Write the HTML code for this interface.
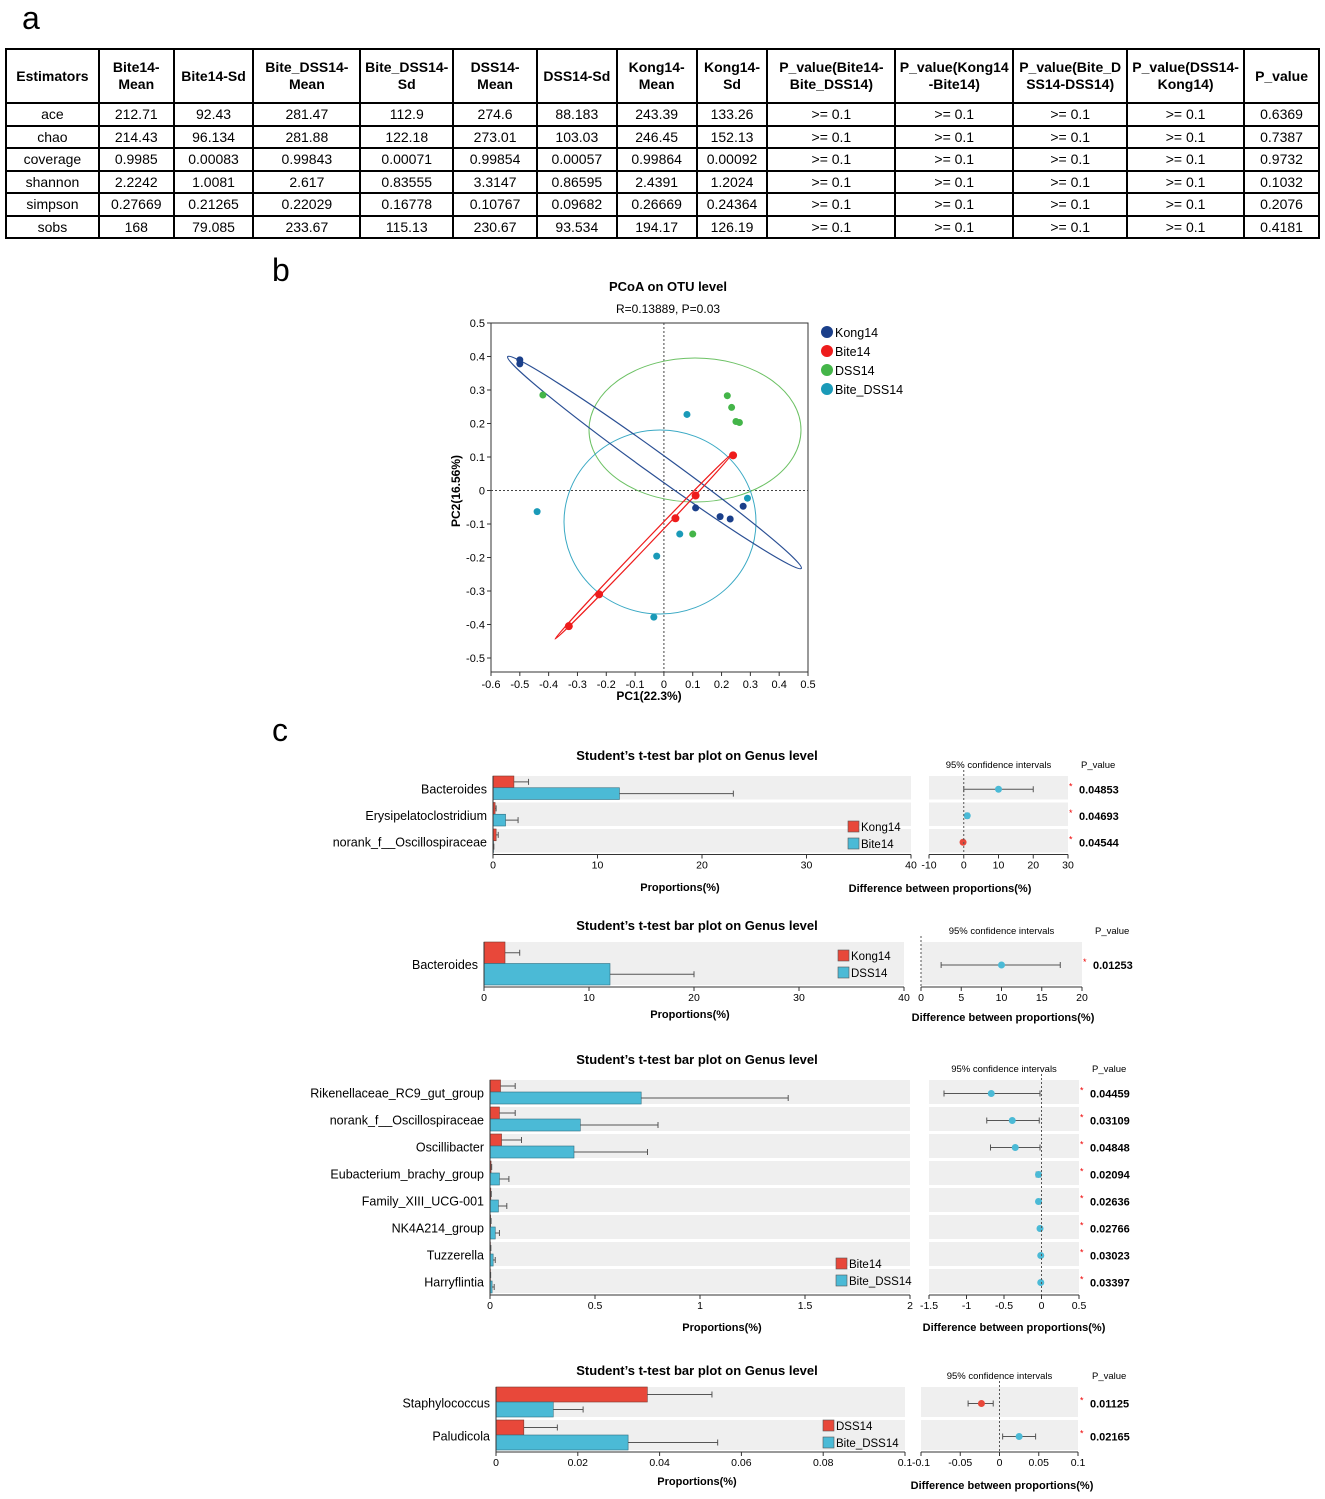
<!DOCTYPE html>
<html><head><meta charset="utf-8">
<style>
html,body{margin:0;padding:0;background:#fff;}
body{width:1325px;height:1499px;position:relative;overflow:hidden;font-family:"Liberation Sans",Arial,sans-serif;}
.lbl{position:absolute;font-size:32px;color:#000;}
table{position:absolute;left:5px;top:48px;border-collapse:collapse;width:1315px;}
td,th{border:2px solid #000;text-align:center;font-size:14px;padding:0;height:20.5px;}
th{font-weight:bold;height:52px;line-height:17px;}
svg{position:absolute;left:0;top:0;}
</style></head>
<body>
<div class="lbl" style="left:22px;top:0px">a</div>
<div class="lbl" style="left:272px;top:252px">b</div>
<div class="lbl" style="left:272px;top:712px">c</div>
<table>
<colgroup><col style="width:93px"><col style="width:75px"><col style="width:80px"><col style="width:107px"><col style="width:93px"><col style="width:84px"><col style="width:80px"><col style="width:80px"><col style="width:71px"><col style="width:128px"><col style="width:118px"><col style="width:114px"><col style="width:117px"><col style="width:75px"></colgroup>
<tr><th>Estimators</th><th>Bite14-<br>Mean</th><th>Bite14-Sd</th><th>Bite_DSS14-<br>Mean</th><th>Bite_DSS14-<br>Sd</th><th>DSS14-<br>Mean</th><th>DSS14-Sd</th><th>Kong14-<br>Mean</th><th>Kong14-<br>Sd</th><th>P_value(Bite14-<br>Bite_DSS14)</th><th>P_value(Kong14<br>-Bite14)</th><th>P_value(Bite_D<br>SS14-DSS14)</th><th>P_value(DSS14-<br>Kong14)</th><th>P_value</th></tr>
<tr><td>ace</td><td>212.71</td><td>92.43</td><td>281.47</td><td>112.9</td><td>274.6</td><td>88.183</td><td>243.39</td><td>133.26</td><td>&gt;= 0.1</td><td>&gt;= 0.1</td><td>&gt;= 0.1</td><td>&gt;= 0.1</td><td>0.6369</td></tr>
<tr><td>chao</td><td>214.43</td><td>96.134</td><td>281.88</td><td>122.18</td><td>273.01</td><td>103.03</td><td>246.45</td><td>152.13</td><td>&gt;= 0.1</td><td>&gt;= 0.1</td><td>&gt;= 0.1</td><td>&gt;= 0.1</td><td>0.7387</td></tr>
<tr><td>coverage</td><td>0.9985</td><td>0.00083</td><td>0.99843</td><td>0.00071</td><td>0.99854</td><td>0.00057</td><td>0.99864</td><td>0.00092</td><td>&gt;= 0.1</td><td>&gt;= 0.1</td><td>&gt;= 0.1</td><td>&gt;= 0.1</td><td>0.9732</td></tr>
<tr><td>shannon</td><td>2.2242</td><td>1.0081</td><td>2.617</td><td>0.83555</td><td>3.3147</td><td>0.86595</td><td>2.4391</td><td>1.2024</td><td>&gt;= 0.1</td><td>&gt;= 0.1</td><td>&gt;= 0.1</td><td>&gt;= 0.1</td><td>0.1032</td></tr>
<tr><td>simpson</td><td>0.27669</td><td>0.21265</td><td>0.22029</td><td>0.16778</td><td>0.10767</td><td>0.09682</td><td>0.26669</td><td>0.24364</td><td>&gt;= 0.1</td><td>&gt;= 0.1</td><td>&gt;= 0.1</td><td>&gt;= 0.1</td><td>0.2076</td></tr>
<tr><td>sobs</td><td>168</td><td>79.085</td><td>233.67</td><td>115.13</td><td>230.67</td><td>93.534</td><td>194.17</td><td>126.19</td><td>&gt;= 0.1</td><td>&gt;= 0.1</td><td>&gt;= 0.1</td><td>&gt;= 0.1</td><td>0.4181</td></tr>
</table>
<svg id="fig" width="1325" height="1499"></svg>
<script>
// ---------- PCoA data ----------
const pcoaGroups = ["Kong14","Bite14","DSS14","Bite_DSS14"];
const pcoaColors = ["#1a3f8a","#ee1c1c","#44b549","#1a9ab8"];
const kongPC1 = [-0.5,-0.5,0.11,0.195,0.23,0.275];
const kongPC2 = [0.39,0.378,-0.052,-0.078,-0.085,-0.047];
const bitePC1 = [0.24,0.11,0.04,-0.225,-0.33];
const bitePC2 = [0.105,-0.015,-0.083,-0.31,-0.405];
const dssPC1 = [-0.42,0.22,0.235,0.25,0.262,0.1];
const dssPC2 = [0.285,0.283,0.248,0.206,0.203,-0.13];
const biteDssPC1 = [0.08,0.29,-0.44,0.055,-0.025,-0.035];
const biteDssPC2 = [0.227,-0.023,-0.063,-0.13,-0.196,-0.378];
const pcoaXTicks = [-0.6,-0.5,-0.4,-0.3,-0.2,-0.1,0,0.1,0.2,0.3,0.4,0.5];
const pcoaYTicks = [0.5,0.4,0.3,0.2,0.1,0,-0.1,-0.2,-0.3,-0.4,-0.5];

// ---------- t-test charts data ----------
const c1Genera = ["Bacteroides","Erysipelatoclostridium","norank_f__Oscillospiraceae"];
const c1Red = [2.0,0.2,0.3]; const c1RedErr=[3.4,0.3,0.5];
const c1Blue = [12.1,1.2,0.05]; const c1BlueErr=[23,2.4,0.08];
const c1Diff = [10,1,-0.2]; const c1Lo=[0,0.5,-0.4]; const c1Hi=[20,1.5,0];
const c1P = ["0.04853","0.04693","0.04544"];
const c1Ticks=[0,10,20,30,40]; const c1DTicks=[-10,0,10,20,30];

const c2Genera = ["Bacteroides"];
const c2Red=[2.0]; const c2RedErr=[3.4]; const c2Blue=[12]; const c2BlueErr=[20];
const c2Diff=[10]; const c2Lo=[2.5]; const c2Hi=[17.3]; const c2P=["0.01253"];
const c2Ticks=[0,10,20,30,40]; const c2DTicks=[0,5,10,15,20];

const c3Genera=["Rikenellaceae_RC9_gut_group","norank_f__Oscillospiraceae","Oscillibacter","Eubacterium_brachy_group","Family_XIII_UCG-001","NK4A214_group","Tuzzerella","Harryflintia"];
const c3Red=[0.05,0.045,0.055,0.005,0.004,0.003,0.002,0.002];
const c3RedErr=[0.12,0.12,0.15,0.008,0.006,0.005,0.004,0.003];
const c3Blue=[0.72,0.43,0.40,0.045,0.04,0.025,0.015,0.01];
const c3BlueErr=[1.42,0.8,0.75,0.09,0.08,0.045,0.025,0.02];
const c3Diff=[-0.67,-0.39,-0.35,-0.04,-0.04,-0.02,-0.01,-0.01];
const c3Lo=[-1.3,-0.73,-0.68,-0.07,-0.06,-0.04,-0.02,-0.02];
const c3Hi=[-0.02,-0.03,-0.02,-0.01,-0.01,0,0,0];
const c3P=["0.04459","0.03109","0.04848","0.02094","0.02636","0.02766","0.03023","0.03397"];
const c3Ticks=[0,0.5,1,1.5,2]; const c3DTicks=[-1.5,-1,-0.5,0,0.5];

const c4Genera=["Staphylococcus","Paludicola"];
const c4Red=[0.037,0.0068]; const c4RedErr=[0.0528,0.015];
const c4Blue=[0.014,0.0323]; const c4BlueErr=[0.0213,0.0542];
const c4Diff=[-0.023,0.025]; const c4Lo=[-0.04,0.004]; const c4Hi=[-0.008,0.046];
const c4P=["0.01125","0.02165"];
const c4Ticks=[0,0.02,0.04,0.06,0.08,0.1]; const c4DTicks=[-0.1,-0.05,0,0.05,0.1];

const NS="http://www.w3.org/2000/svg";
const svg=document.getElementById('fig');
function mk(tag,attrs,parent,text){const e=document.createElementNS(NS,tag);for(const k in attrs)e.setAttribute(k,attrs[k]);if(text!==undefined)e.textContent=text;(parent||svg).appendChild(e);return e;}

// ---------- PCoA ----------
(function(){
  const g=mk('g',{});
  
  
  const x0=491,x1=808,y0=323,yb=672;
  const sx=v=>x0+(v+0.6)/1.1*(x1-x0);
  const sy=v=>323+(0.5-v)*335;
  const t=mk('text',{x:668,y:291,'text-anchor':'middle','font-size':13,'font-weight':'bold'},g,'PCoA on OTU level');
  
  
  const st=mk('text',{x:668,y:313,'text-anchor':'middle','font-size':12},g,'R=0.13889, P=0.03');
  
  
  mk('rect',{x:x0,y:y0,width:x1-x0,height:yb-y0,fill:'none',stroke:'#333','stroke-width':1},g);
  mk('line',{x1:sx(0),x2:sx(0),y1:y0,y2:yb,stroke:'#444','stroke-dasharray':'2,2'},g);
  mk('line',{x1:x0,x2:x1,y1:sy(0),y2:sy(0),stroke:'#444','stroke-dasharray':'2,2'},g);
  pcoaXTicks.forEach(v=>{mk('line',{x1:sx(v),x2:sx(v),y1:yb,y2:yb+4,stroke:'#333'},g);
    const l=mk('text',{x:sx(v),y:yb+16,'text-anchor':'middle','font-size':11},g,String(v));
    
    });
  pcoaYTicks.forEach(v=>{mk('line',{x1:x0-4,x2:x0,y1:sy(v),y2:sy(v),stroke:'#333'},g);
    const l=mk('text',{x:x0-6,y:sy(v)+4,'text-anchor':'end','font-size':11},g,String(v));
    
    });
  const xt=mk('text',{x:649,y:700,'text-anchor':'middle','font-size':12,'font-weight':'bold'},g,'PC1(22.3%)');
  
  
  const yt=mk('text',{x:0,y:0,'text-anchor':'middle','font-size':12,'font-weight':'bold',transform:'translate(460,491) rotate(-90)'},g,'PC2(16.56%)');
  
  
  mk('ellipse',{cx:695,cy:430,rx:106,ry:72,fill:'none',stroke:'#6cc164','stroke-width':1},g);
  mk('ellipse',{cx:660,cy:522,rx:96,ry:92,fill:'none',stroke:'#3aa9c4','stroke-width':1},g);
  mk('ellipse',{cx:654.5,cy:462.5,rx:181,ry:11,fill:'none',stroke:'#2a4f94','stroke-width':1.2,transform:'rotate(35.8 654.5 462.5)'},g);
  mk('ellipse',{cx:643.5,cy:546.5,rx:128,ry:2.5,fill:'none',stroke:'#ee1c1c','stroke-width':1.2,transform:'rotate(-46.3 643.5 546.5)'},g);
  const sets=[[kongPC1,kongPC2],[bitePC1,bitePC2],[dssPC1,dssPC2],[biteDssPC1,biteDssPC2]];
  sets.forEach((s,i)=>{s[0].forEach((v,j)=>{const c=mk('circle',{cx:sx(v),cy:sy(s[1][j]),r:i==1?4:3.5,fill:pcoaColors[i]},g);
    
    });});
  pcoaGroups.forEach((n,i)=>{const y=332+i*19;
    const c=mk('circle',{cx:827,cy:y,r:6,fill:pcoaColors[i]},g);
    
    
    const l=mk('text',{x:835,y:y+5,'font-size':12.5},g,n);
    
    });
})();

// ---------- t-test bar charts ----------
function tchart(o){
  const g=mk('g',{});
  
  
  const sx=v=>o.L0+(v-o.tk[0])/(o.tk[o.tk.length-1]-o.tk[0])*(o.L1-o.L0);
  const dx=v=>o.R0+(v-o.dt[0])/(o.dt[o.dt.length-1]-o.dt[0])*(o.R1-o.R0);
  const tt=mk('text',{x:697,y:o.titleY,'text-anchor':'middle','font-size':13,'font-weight':'bold'},g,"Student’s t-test bar plot on Genus level");
  
  
  const n=o.gen.length, rh=o.rowH, half=(rh-3)/2;
  const ci=mk('text',{x:(o.R0+o.R1)/2,y:o.top-8,'text-anchor':'middle','font-size':9.5},g,'95% confidence intervals');
  
  
  const ph=mk('text',{x:o.P+2,y:o.top-8,'font-size':9.5},g,'P_value');
  
  
  o.gen.forEach((name,i)=>{
    const yt=o.top+i*rh, yc=yt+1.5+half;
    mk('rect',{x:o.L0,y:yt,width:o.L1-o.L0,height:rh-3,fill:'#efefef'},g);
    mk('rect',{x:o.R0,y:yt,width:o.R1-o.R0,height:rh-3,fill:'#efefef'},g);
    const lb=mk('text',{x:o.L0-6,y:yc+4,'text-anchor':'end','font-size':12.5},g,name);
    
    
    const r=mk('rect',{x:o.L0,y:yt,width:sx(o.red[i])-o.L0,height:half,fill:'#e8483a',stroke:'#7a3a30','stroke-width':0.6},g);
    
    
    const b=mk('rect',{x:o.L0,y:yt+half,width:sx(o.blue[i])-o.L0,height:half,fill:'#4bbad6',stroke:'#2f6f80','stroke-width':0.6},g);
    
    
    [[o.red[i],o.redE[i],yt+half/2],[o.blue[i],o.blueE[i],yt+half*1.5]].forEach(e=>{
      mk('line',{x1:sx(e[0]),x2:sx(e[1]),y1:e[2],y2:e[2],stroke:'#555','stroke-width':1},g);
      mk('line',{x1:sx(e[1]),x2:sx(e[1]),y1:e[2]-3,y2:e[2]+3,stroke:'#555','stroke-width':1},g);});
    mk('line',{x1:dx(o.lo[i]),x2:dx(o.hi[i]),y1:yc,y2:yc,stroke:'#555'},g);
    mk('line',{x1:dx(o.lo[i]),x2:dx(o.lo[i]),y1:yc-3,y2:yc+3,stroke:'#555'},g);
    mk('line',{x1:dx(o.hi[i]),x2:dx(o.hi[i]),y1:yc-3,y2:yc+3,stroke:'#555'},g);
    const d=mk('circle',{cx:dx(o.diff[i]),cy:yc,r:3.5,fill:o.diff[i]<0&&o.redNeg?'#e8483a':'#4bbad6'},g);
    
    
    mk('text',{x:o.P-10,y:yc,'font-size':9,fill:'#e00'},g,'*');
    const p=mk('text',{x:o.P,y:yc+4,'font-size':11,'font-weight':'bold'},g,o.p[i]);
    
    
  });
  const ax=o.top+n*rh-1;
  mk('line',{x1:o.L0,x2:o.L1,y1:ax,y2:ax,stroke:'#333'},g);
  mk('line',{x1:o.L0,x2:o.L0,y1:o.top,y2:ax,stroke:'#333'},g);
  mk('line',{x1:o.R0,x2:o.R1,y1:ax,y2:ax,stroke:'#333'},g);
  mk('line',{x1:dx(0),x2:dx(0),y1:o.top-6,y2:ax,stroke:'#555','stroke-dasharray':'2,2'},g);
  o.tk.forEach(v=>{mk('line',{x1:sx(v),x2:sx(v),y1:ax,y2:ax+4,stroke:'#333'},g);
    const l=mk('text',{x:sx(v),y:ax+14,'text-anchor':'middle','font-size':10.5},g,String(v));
    
    });
  o.dt.forEach(v=>{mk('line',{x1:dx(v),x2:dx(v),y1:ax,y2:ax+4,stroke:'#333'},g);
    const l=mk('text',{x:dx(v),y:ax+14,'text-anchor':'middle','font-size':10.5},g,String(v));
    
    });
  const pl=mk('text',{x:o.propX,y:o.propY,'text-anchor':'middle','font-size':11,'font-weight':'bold'},g,'Proportions(%)');
  
  
  const dl=mk('text',{x:o.diffX,y:o.diffY,'text-anchor':'middle','font-size':11,'font-weight':'bold'},g,'Difference between proportions(%)');
  
  
  [[o.g1,'#e8483a',o.legY],[o.g2,'#4bbad6',o.legY+17]].forEach(e=>{
    mk('rect',{x:o.legX,y:e[2]-6,width:11,height:11,fill:e[1],stroke:'#555','stroke-width':0.6},g);
    const l=mk('text',{x:o.legX+13,y:e[2]+4,'font-size':11.5},g,e[0]);
    
    });
}
tchart({name:'ttest-kong-vs-bite',titleY:760,top:776,rowH:26.5,L0:493,L1:911,R0:929,R1:1068,P:1079,
  gen:c1Genera,red:c1Red,redE:c1RedErr,blue:c1Blue,blueE:c1BlueErr,diff:c1Diff,lo:c1Lo,hi:c1Hi,p:c1P,tk:c1Ticks,dt:c1DTicks,
  g1:'Kong14',g2:'Bite14',legX:848,legY:827,propX:680,propY:891,diffX:940,diffY:892,redNeg:true});
tchart({name:'ttest-kong-vs-dss',titleY:930,top:942,rowH:46,L0:484,L1:904,R0:921,R1:1082,P:1093,
  gen:c2Genera,red:c2Red,redE:c2RedErr,blue:c2Blue,blueE:c2BlueErr,diff:c2Diff,lo:c2Lo,hi:c2Hi,p:c2P,tk:c2Ticks,dt:c2DTicks,
  g1:'Kong14',g2:'DSS14',legX:838,legY:956,propX:690,propY:1018,diffX:1003,diffY:1021,redNeg:true});
tchart({name:'ttest-bite-vs-bitedss',titleY:1064,top:1080,rowH:27,L0:490,L1:910,R0:929,R1:1079,P:1090,
  gen:c3Genera,red:c3Red,redE:c3RedErr,blue:c3Blue,blueE:c3BlueErr,diff:c3Diff,lo:c3Lo,hi:c3Hi,p:c3P,tk:c3Ticks,dt:c3DTicks,
  g1:'Bite14',g2:'Bite_DSS14',legX:836,legY:1264,propX:722,propY:1331,diffX:1014,diffY:1331,redNeg:false});
tchart({name:'ttest-dss-vs-bitedss',titleY:1375,top:1387,rowH:33,L0:496,L1:905,R0:921,R1:1078,P:1090,
  gen:c4Genera,red:c4Red,redE:c4RedErr,blue:c4Blue,blueE:c4BlueErr,diff:c4Diff,lo:c4Lo,hi:c4Hi,p:c4P,tk:c4Ticks,dt:c4DTicks,
  g1:'DSS14',g2:'Bite_DSS14',legX:823,legY:1426,propX:697,propY:1485,diffX:1002,diffY:1489,redNeg:true});
</script>
</body></html>
